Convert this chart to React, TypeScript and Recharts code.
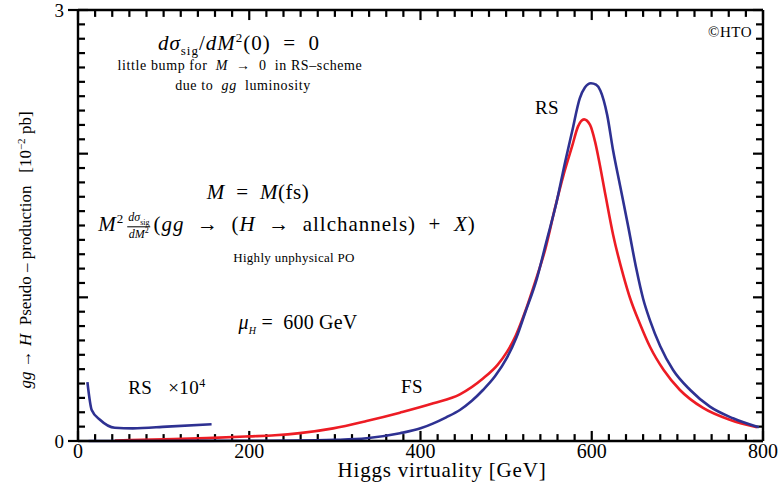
import React from "react";
import { LineChart, Line, XAxis, YAxis, ReferenceLine } from "recharts";

// RS scheme (blue), M in GeV, value in 10^-2 pb
const rsMass = [12, 50, 100, 150, 200, 250, 300, 337, 376, 400, 415, 430, 446, 460, 473, 487, 501, 512, 522, 536, 547, 559, 569, 577, 586, 592, 599, 605, 610, 618, 625, 633, 643, 652, 660, 668, 680, 695, 715, 738, 765, 795];
const rsValue = [0.0, 0.0, 0.0, 0.001, 0.002, 0.003, 0.008, 0.019, 0.054, 0.088, 0.123, 0.165, 0.216, 0.28, 0.355, 0.45, 0.58, 0.72, 0.889, 1.132, 1.387, 1.665, 1.944, 2.152, 2.385, 2.46, 2.49, 2.48, 2.44, 2.27, 2.02, 1.78, 1.48, 1.2, 0.99, 0.84, 0.66, 0.494, 0.355, 0.239, 0.158, 0.095];

// FS scheme (red)
const fsMass = [43, 100, 150, 200, 230, 259, 298, 337, 376, 415, 446, 473, 490, 501, 511, 521, 534, 546, 557, 567, 577, 584, 591, 598, 604, 608, 616, 625, 637, 645, 656, 668, 684, 703, 730, 762, 793];
const fsValue = [0.004, 0.012, 0.02, 0.032, 0.04, 0.055, 0.088, 0.139, 0.197, 0.262, 0.325, 0.435, 0.53, 0.62, 0.73, 0.88, 1.109, 1.341, 1.619, 1.851, 2.05, 2.19, 2.239, 2.2, 2.08, 1.967, 1.712, 1.434, 1.15, 0.99, 0.82, 0.656, 0.494, 0.355, 0.23, 0.146, 0.095];

// RS low mass region, scaled x10^4
const rsLowMass = [11, 16, 26, 43, 64, 104, 156];
const rsLowValue = [0.41, 0.216, 0.146, 0.092, 0.088, 0.1, 0.117];

const xTickLabels = [0, 200, 400, 600, 800];
const yTickLabels = [0, 3];

const xTicks = Array.from({ length: 41 }, (_, i) => i * 20);
const yTicks = Array.from({ length: 31 }, (_, i) => i / 10);

const rsData = rsMass.map((m, i) => ({ m, v: rsValue[i] }));
const fsData = fsMass.map((m, i) => ({ m, v: fsValue[i] }));
const rsLowData = rsLowMass.map((m, i) => ({ m, v: rsLowValue[i] }));

const BLUE = "#2e3192";
const RED = "#ed1c24";
const FONT = "'Liberation Serif', 'DejaVu Serif', serif";

// tick lengths in data units (about 10px / 7px long)
const X_MAJOR = 0.07;
const X_MINOR = 0.048;
const Y_MAJOR = 11.7;
const Y_MINOR = 8.2;

const isWhole = (v: number) => Math.abs(v - Math.round(v)) < 1e-6;

const bottomTick = (props: any) => {
  const { x, y, payload } = props;
  if (!xTickLabels.includes(payload.value)) return <g />;
  return (
    <text x={x} y={y + 17} textAnchor="middle" fontFamily={FONT} fontSize={20} fill="#000">
      {payload.value}
    </text>
  );
};

const leftTick = (props: any) => {
  const { x, y, payload } = props;
  const v = Math.round(payload.value * 10) / 10;
  if (!yTickLabels.includes(v)) return <g />;
  return (
    <text x={x - 14} y={y + 7} textAnchor="end" fontFamily={FONT} fontSize={19} fill="#000">
      {v}
    </text>
  );
};

const Note = ({
  x,
  y,
  size = 18,
  spacing = 0,
  children,
}: {
  x: number;
  y: number;
  size?: number;
  spacing?: number;
  children: React.ReactNode;
}) => (
  <div
    style={{
      position: "absolute",
      left: x,
      top: y,
      transform: "translate(-50%, -50%)",
      whiteSpace: "nowrap",
      fontSize: size,
      letterSpacing: spacing,
      fontFamily: FONT,
      color: "#000",
      lineHeight: 1,
    }}
  >
    {children}
  </div>
);

const Frac = ({ top, bottom }: { top: React.ReactNode; bottom: React.ReactNode }) => (
  <span
    style={{
      display: "inline-flex",
      flexDirection: "column",
      alignItems: "center",
      fontSize: 12,
      verticalAlign: "middle",
      margin: "0 3px",
      letterSpacing: 0,
    }}
  >
    <span style={{ borderBottom: "1px solid #000", padding: "0 1px" }}>{top}</span>
    <span>{bottom}</span>
  </span>
);

export default function App() {
  return (
    <div style={{ position: "absolute", left: 0, top: 0, width: 778, height: 482, background: "#fff" }}>
      <LineChart width={778} height={482} margin={{ top: 10, right: 15, bottom: 11, left: 58 }}>
        <XAxis
          xAxisId="b"
          type="number"
          dataKey="m"
          domain={[0, 800]}
          ticks={xTicks}
          interval={0}
          height={30}
          tickSize={0}
          tickMargin={0}
          tickLine={false}
          axisLine={{ stroke: "#000", strokeWidth: 2.4 }}
          tick={bottomTick}
        />
        <YAxis
          yAxisId="l"
          type="number"
          domain={[0, 3]}
          ticks={yTicks}
          interval={0}
          width={20}
          tickSize={0}
          tickMargin={0}
          tickLine={false}
          axisLine={{ stroke: "#000", strokeWidth: 2.4 }}
          tick={leftTick}
        />
        {/* top and right frame */}
        <ReferenceLine xAxisId="b" yAxisId="l" segment={[{ x: 0, y: 3 }, { x: 800, y: 3 }]} stroke="#000" strokeWidth={2.4} ifOverflow="visible" />
        <ReferenceLine xAxisId="b" yAxisId="l" segment={[{ x: 800, y: 0 }, { x: 800, y: 3 }]} stroke="#000" strokeWidth={2.4} ifOverflow="visible" />
        {xTicks.map((t) => {
          const len = t % 200 === 0 ? X_MAJOR : X_MINOR;
          return (
            <ReferenceLine key={"xb" + t} xAxisId="b" yAxisId="l" segment={[{ x: t, y: 0 }, { x: t, y: len }]} stroke="#000" strokeWidth={2.2} ifOverflow="visible" />
          );
        })}
        {xTicks.map((t) => {
          const len = t % 200 === 0 ? X_MAJOR : X_MINOR;
          return (
            <ReferenceLine key={"xt" + t} xAxisId="b" yAxisId="l" segment={[{ x: t, y: 3 }, { x: t, y: 3 - len }]} stroke="#000" strokeWidth={2.2} ifOverflow="visible" />
          );
        })}
        {yTicks.map((t) => {
          const len = isWhole(t) ? Y_MAJOR : Y_MINOR;
          return (
            <ReferenceLine key={"yl" + t} xAxisId="b" yAxisId="l" segment={[{ x: 0, y: t }, { x: len, y: t }]} stroke="#000" strokeWidth={2.2} ifOverflow="visible" />
          );
        })}
        {yTicks.map((t) => {
          const len = isWhole(t) ? Y_MAJOR : Y_MINOR;
          return (
            <ReferenceLine key={"yr" + t} xAxisId="b" yAxisId="l" segment={[{ x: 800, y: t }, { x: 800 - len, y: t }]} stroke="#000" strokeWidth={2.2} ifOverflow="visible" />
          );
        })}
        {yTickLabels.map((t) => (
          <ReferenceLine key={"yo" + t} xAxisId="b" yAxisId="l" segment={[{ x: -11.7, y: t }, { x: 0, y: t }]} stroke="#000" strokeWidth={2.2} ifOverflow="visible" />
        ))}
        <Line
          xAxisId="b"
          yAxisId="l"
          data={fsData}
          dataKey="v"
          type="monotone"
          stroke={RED}
          strokeWidth={2.6}
          dot={false}
          isAnimationActive={false}
        />
        <Line
          xAxisId="b"
          yAxisId="l"
          data={rsData}
          dataKey="v"
          type="monotone"
          stroke={BLUE}
          strokeWidth={2.6}
          dot={false}
          isAnimationActive={false}
        />
        <Line
          xAxisId="b"
          yAxisId="l"
          data={rsLowData}
          dataKey="v"
          type="monotone"
          stroke={BLUE}
          strokeWidth={2.6}
          dot={false}
          isAnimationActive={false}
        />
      </LineChart>

      <Note x={239} y={44} size={21} spacing={1}>
        <i>dσ</i>
        <sub style={{ fontSize: 13 }}>sig</sub>/<i>dM</i>
        <sup style={{ fontSize: 13 }}>2</sup>(0)&nbsp; =&nbsp; 0
      </Note>
      <Note x={240} y={66} size={14} spacing={0.6}>
        little bump for&nbsp; <i>M</i>&nbsp; →&nbsp; 0&nbsp; in RS–scheme
      </Note>
      <Note x={243} y={86} size={14} spacing={0.6}>
        due to&nbsp; <i>gg</i>&nbsp; luminosity
      </Note>
      <Note x={258} y={192} size={21} spacing={0.5}>
        <i>M</i> &nbsp;= &nbsp;<i>M</i>(fs)
      </Note>
      <Note x={287} y={226} size={21} spacing={1}>
        <i>M</i>
        <sup style={{ fontSize: 13 }}>2</sup>
        <Frac
          top={
            <>
              <i>dσ</i>
              <sub style={{ fontSize: 8 }}>sig</sub>
            </>
          }
          bottom={
            <>
              <i>dM</i>
              <sup style={{ fontSize: 8 }}>2</sup>
            </>
          }
        />
        (<i>gg</i>&nbsp; →&nbsp; (<i>H</i>&nbsp; →&nbsp; allchannels)&nbsp; +&nbsp; <i>X</i>)
      </Note>
      <Note x={294} y={257} size={13} spacing={0.3}>
        Highly unphysical PO
      </Note>
      <Note x={298} y={324} size={20} spacing={0.2}>
        <i>μ</i>
        <sub style={{ fontSize: 10 }}>
          <i>H</i>
        </sub>
        &nbsp;= &nbsp;600 GeV
      </Note>
      <Note x={730} y={32} size={15} spacing={0.5}>
        ©HTO
      </Note>
      <Note x={547} y={107} size={19} spacing={0.5}>
        RS
      </Note>
      <Note x={167} y={387} size={19} spacing={0.5}>
        RS&nbsp;&nbsp; ×10<sup style={{ fontSize: 12 }}>4</sup>
      </Note>
      <Note x={412} y={386} size={19} spacing={0.5}>
        FS
      </Note>
      <Note x={442} y={470} size={21} spacing={0.8}>
        Higgs virtuality [GeV]
      </Note>
      <div
        style={{
          position: "absolute",
          left: 25,
          top: 250,
          transform: "translate(-50%, -50%) rotate(-90deg)",
          whiteSpace: "nowrap",
          fontSize: 17,
          fontFamily: FONT,
          lineHeight: 1,
        }}
      >
        <i>gg</i> → <i>H</i>&nbsp; Pseudo – production&nbsp;&nbsp; [10<sup style={{ fontSize: 11 }}>−2</sup> pb]
      </div>
    </div>
  );
}
